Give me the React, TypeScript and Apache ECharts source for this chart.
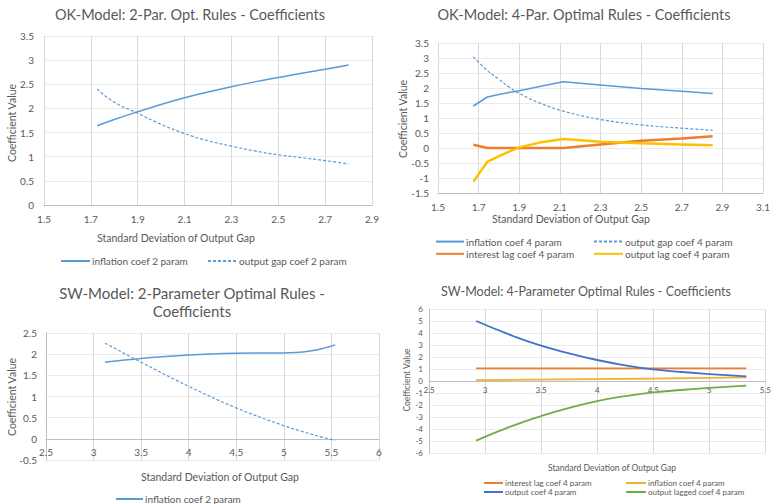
import React, { useEffect, useRef } from "react";
import * as echarts from "echarts";

// ---------- Panel 1: OK-Model 2-parameter ----------
const ok2X = [1.727, 1.8, 1.9, 2.0, 2.1, 2.2, 2.3, 2.4, 2.5, 2.6, 2.7, 2.8];
const ok2Inflation = [1.64, 1.77, 1.93, 2.08, 2.22, 2.34, 2.45, 2.55, 2.64, 2.73, 2.81, 2.9];
const ok2OutputGap = [2.4, 2.13, 1.9, 1.67, 1.48, 1.33, 1.22, 1.12, 1.04, 0.98, 0.92, 0.85];

// ---------- Panel 2: OK-Model 4-parameter ----------
const ok4X = [1.674, 1.743, 1.8, 1.85, 1.9, 2.0, 2.117, 2.3, 2.5, 2.7, 2.852];
const ok4Inflation = [1.4, 1.7, 1.78, 1.85, 1.91, 2.05, 2.21, 2.1, 1.98, 1.89, 1.82];
const ok4OutputGap = [3.04, 2.58, 2.29, 2.03, 1.82, 1.5, 1.23, 0.95, 0.77, 0.66, 0.59];
const ok4InterestLag = [0.11, 0, 0, 0, 0, 0, 0, 0.12, 0.24, 0.32, 0.39];
const ok4OutputLag = [-1.12, -0.46, -0.27, -0.12, 0.02, 0.18, 0.3, 0.21, 0.16, 0.12, 0.09];

// ---------- Panel 3: SW-Model 2-parameter ----------
const sw2X = [3.12, 3.5, 4.0, 4.5, 5.0, 5.2, 5.4, 5.54];
const sw2Inflation = [1.81, 1.9, 1.98, 2.02, 2.03, 2.05, 2.13, 2.22];
const sw2OutputGap = [2.26, 1.81, 1.24, 0.73, 0.31, 0.17, 0.04, -0.04];

// ---------- Panel 4: SW-Model 4-parameter ----------
const sw4X = [2.92, 3.25, 3.5, 3.75, 4.0, 4.25, 4.5, 4.75, 5.0, 5.33];
const sw4InterestLag = [1.05, 1.05, 1.05, 1.05, 1.05, 1.05, 1.05, 1.05, 1.05, 1.05];
const sw4Inflation = [0.08, 0.1, 0.12, 0.14, 0.16, 0.18, 0.2, 0.23, 0.26, 0.3];
const sw4Output = [5.0, 3.75, 2.94, 2.31, 1.75, 1.31, 0.97, 0.75, 0.58, 0.39];
const sw4OutputLagged = [-4.97, -3.72, -2.92, -2.24, -1.68, -1.26, -0.95, -0.75, -0.58, -0.39];

const FONT = "Lato, 'Open Sans', sans-serif";
const TXT = "#595959";
const BLUE = "#5B9BD5";
const ORANGE = "#ED7D31";
const YELLOW = "#FFC000";
const DBLUE = "#4472C4";
const GREEN = "#70AD47";
const GOLD = "#F2B134";

const GRIDS = [
  { left: 44, top: 36, width: 328, height: 169 },
  { left: 438, top: 43, width: 325, height: 150 },
  { left: 46, top: 333, width: 333, height: 127 },
  { left: 429, top: 309, width: 339, height: 144 },
];

const zip = (xs: number[], ys: number[]) => xs.map((x, i) => [x, ys[i]]);
const fmt = (v: number) => String(Math.round(v * 10) / 10);

// distance (px) from the grid's bottom edge up to the y = 0 line
function zeroOffset(gi: number, yMin: number, yMax: number) {
  const g = GRIDS[gi];
  if (yMin >= 0 || yMax <= 0) return 0;
  return -((0 - yMin) / (yMax - yMin)) * g.height;
}

function xAxis(gi: number, min: number, max: number, interval: number, size: number, margin: number, offset: number) {
  return {
    type: "value",
    gridIndex: gi,
    min,
    max,
    interval,
    position: "bottom",
    offset,
    axisLine: { show: true, onZero: false, lineStyle: { color: "#BFBFBF", width: 1 } },
    axisTick: { show: false },
    axisLabel: { color: TXT, fontSize: size, fontFamily: FONT, margin, formatter: fmt },
    splitLine: { show: true, lineStyle: { color: "#D9D9D9", width: 1 } },
  };
}

function yAxis(gi: number, min: number, max: number, interval: number, size: number, margin: number, showLine: boolean) {
  return {
    type: "value",
    gridIndex: gi,
    min,
    max,
    interval,
    axisLine: { show: showLine, onZero: false, lineStyle: { color: "#BFBFBF", width: 1 } },
    axisTick: { show: false },
    axisLabel: { color: TXT, fontSize: size, fontFamily: FONT, margin, formatter: fmt },
    splitLine: { show: true, lineStyle: { color: "#EBEBEB", width: 1 } },
  };
}

function line(name: string, gi: number, xs: number[], ys: number[], color: string, width: number, dashed: boolean, smooth: number | false) {
  return {
    name,
    type: "line",
    xAxisIndex: gi,
    yAxisIndex: gi,
    data: zip(xs, ys),
    symbol: "none",
    smooth,
    lineStyle: { color, width, type: dashed ? [3, 2] : "solid" },
    itemStyle: { color },
    emphasis: { disabled: true },
  };
}

function txt(text: string, x: number, y: number, size: number, rotate = false) {
  return {
    type: "text",
    x,
    y,
    rotation: rotate ? Math.PI / 2 : 0,
    silent: true,
    style: {
      text,
      fill: TXT,
      font: `${size}px ${FONT}`,
      align: "center",
      verticalAlign: "middle",
    },
  };
}

function legend(left: number, top: number, data: string[], itemWidth: number, itemHeight: number, gap: number, size: number, orient = "vertical") {
  return {
    left,
    top,
    orient,
    data,
    itemWidth,
    itemHeight,
    itemGap: gap,
    padding: 0,
    selectedMode: false,
    itemStyle: { opacity: 0 },
    textStyle: { color: TXT, fontSize: size, fontFamily: FONT, padding: [0, 0, 0, -3] },
  };
}

export default function App() {
  const ref = useRef<HTMLDivElement>(null);
  useEffect(() => {
    if (!ref.current) return;
    const chart = echarts.init(ref.current, null, { renderer: "svg" });
    const option = {
      animation: false,
      backgroundColor: "#ffffff",
      grid: GRIDS,
      xAxis: [
        xAxis(0, 1.5, 2.9, 0.2, 10, 9, 0),
        xAxis(1, 1.5, 3.1, 0.2, 10, 9, 0),
        xAxis(2, 2.5, 6, 0.5, 10, 8, zeroOffset(2, -0.5, 2.5)),
        xAxis(3, 2.5, 5.5, 0.5, 8, 5, zeroOffset(3, -6, 6)),
      ],
      yAxis: [
        yAxis(0, 0, 3.5, 0.5, 10, 10, false),
        yAxis(1, -1.5, 3.5, 0.5, 10, 9, false),
        yAxis(2, -0.5, 2.5, 0.5, 10, 9, true),
        yAxis(3, -6, 6, 1, 8, 6, true),
      ],
      legend: [
        legend(60, 256, ["inflation coef 2 param", "output gap coef 2 param"], 29, 12, 19, 10, "horizontal"),
        legend(435, 236, ["inflation coef 4 param ", "interest lag coef 4 param "], 28, 14, 1, 10),
        legend(593, 236, ["output gap coef 4 param", "output lag coef 4 param"], 29, 14, 1, 10),
        legend(115, 494, ["inflation coef 2 param  "], 27, 12, 1, 10),
        legend(483, 479, ["interest lag coef 4 param", "output coef 4 param"], 19, 8, 1, 8),
        legend(625, 479, ["inflation coef 4 param", "output lagged coef 4 param"], 20, 8, 1, 8),
      ],
      graphic: [
        txt("OK-Model: 2-Par. Opt. Rules - Coefficients", 190, 14, 14.5),
        txt("OK-Model: 4-Par. Optimal Rules - Coefficients", 584, 14, 14.5),
        txt("SW-Model: 2-Parameter Optimal Rules -", 192, 293, 15),
        txt("Coefficients", 192, 311, 15),
        txt("SW-Model: 4-Parameter Optimal Rules - Coefficients", 586, 291, 12.5),
        txt("Standard Deviation of Output Gap", 176, 238, 10.5),
        txt("Standard Deviation of Output Gap", 571, 219, 10.5),
        txt("Standard Deviation of Output Gap", 220, 477, 10.5),
        txt("Standard Deviation of Output Gap", 612, 468, 8.5),
        txt("Coefficient Value", 12, 123, 10.5, true),
        txt("Coefficient Value", 403, 119, 10.5, true),
        txt("Coefficient Value", 12, 397, 10.5, true),
        txt("Coefficient Value", 407, 380, 8.5, true),
      ],
      series: [
        line("inflation coef 2 param", 0, ok2X, ok2Inflation, BLUE, 1.5, false, 0.5),
        line("output gap coef 2 param", 0, ok2X, ok2OutputGap, BLUE, 1.2, true, 0.5),
        line("inflation coef 4 param ", 1, ok4X, ok4Inflation, BLUE, 1.5, false, false),
        line("output gap coef 4 param", 1, ok4X, ok4OutputGap, BLUE, 1.2, true, 0.4),
        line("interest lag coef 4 param ", 1, ok4X, ok4InterestLag, ORANGE, 2.5, false, false),
        line("output lag coef 4 param", 1, ok4X, ok4OutputLag, YELLOW, 2.5, false, false),
        line("inflation coef 2 param  ", 2, sw2X, sw2Inflation, BLUE, 1.5, false, 0.4),
        line("output gap coef 2 param ", 2, sw2X, sw2OutputGap, BLUE, 1.2, true, 0.4),
        line("interest lag coef 4 param", 3, sw4X, sw4InterestLag, ORANGE, 1.8, false, 0.5),
        line("inflation coef 4 param", 3, sw4X, sw4Inflation, GOLD, 1.8, false, 0.5),
        line("output coef 4 param", 3, sw4X, sw4Output, DBLUE, 1.8, false, 0.5),
        line("output lagged coef 4 param", 3, sw4X, sw4OutputLagged, GREEN, 1.8, false, 0.5),
      ],
    };
    chart.setOption(option as any);
    return () => chart.dispose();
  }, []);
  return (
    <div
      ref={ref}
      style={{ position: "absolute", left: 0, top: 0, width: 774, height: 504, background: "#fff" }}
    />
  );
}
